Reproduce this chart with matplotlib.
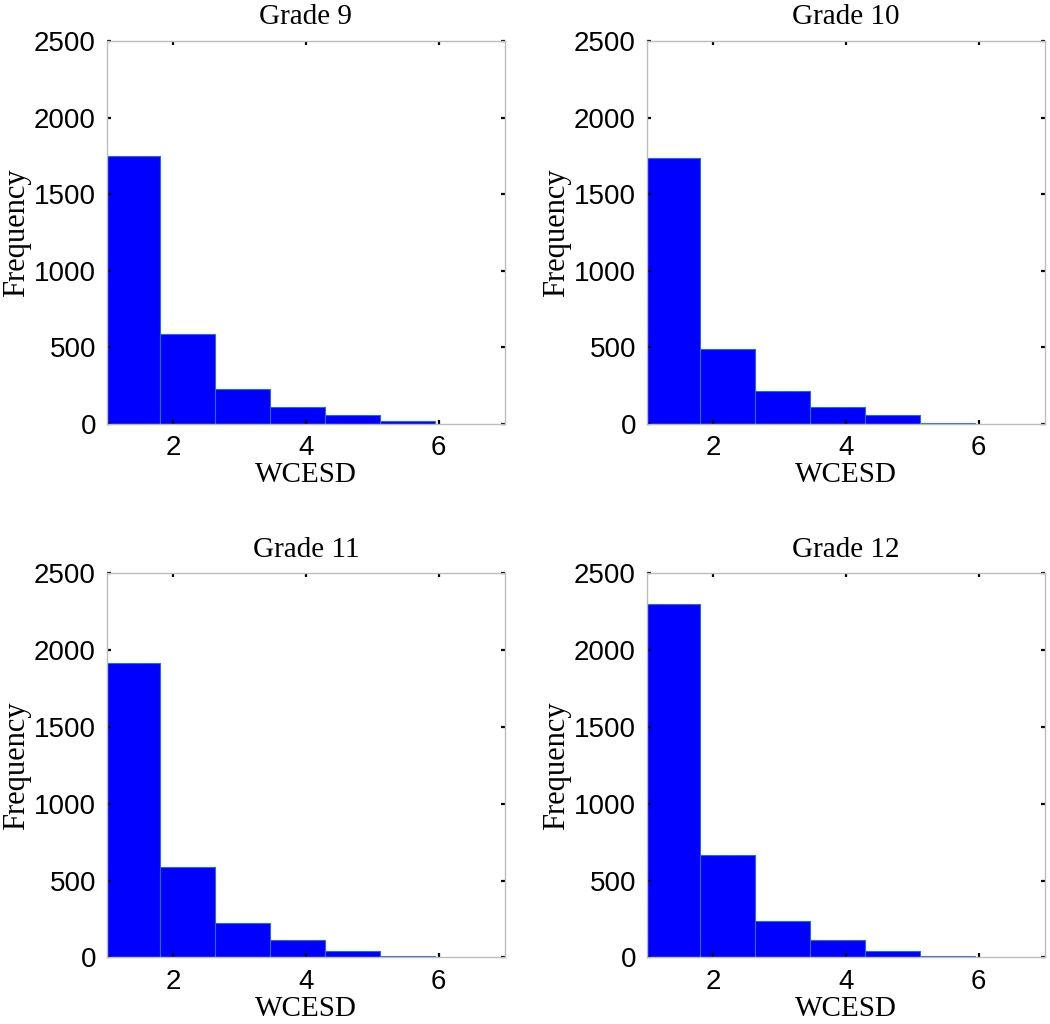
import numpy as np
import matplotlib
matplotlib.use('Agg')
import matplotlib.pyplot as plt

# --- data (MATLAB-style hist, 6 bins) ---
bin_edges = [0.97, 1.80, 2.63, 3.46, 4.29, 5.12, 5.95]
grades = ['Grade 9', 'Grade 10', 'Grade 11', 'Grade 12']
counts_g9 = [1747, 586, 226, 113, 56, 20]
counts_g10 = [1736, 486, 215, 113, 56, 9]
counts_g11 = [1914, 586, 226, 113, 43, 9]
counts_g12 = [2300, 664, 237, 113, 43, 9]
all_counts = [counts_g9, counts_g10, counts_g11, counts_g12]

x_ticks = [2, 4, 6]
y_ticks = [0, 500, 1000, 1500, 2000, 2500]

serif = ['Liberation Serif', 'DejaVu Serif']
sans = ['Liberation Sans', 'DejaVu Sans']

fig = plt.figure(figsize=(10.5, 10.24), dpi=100)

# axes boxes in figure fractions [left, bottom, width, height]
positions = [
    [0.1019, 0.586, 0.379, 0.374],
    [0.6162, 0.586, 0.379, 0.374],
    [0.1019, 0.065, 0.379, 0.375],
    [0.6162, 0.065, 0.379, 0.375],
]

edges = np.array(bin_edges)
widths = np.diff(edges)

for pos, title, counts in zip(positions, grades, all_counts):
    ax = fig.add_axes(pos)
    ax.bar(edges[:-1], counts, width=widths, align='edge',
           color='#0000ff', edgecolor='#2a6ad6', linewidth=0.8)
    ax.set_xlim(1, 7)
    ax.set_ylim(0, 2500)
    ax.set_xticks(x_ticks)
    ax.set_yticks(y_ticks)

    for s in ax.spines.values():
        s.set_color('#bdbdbd')
        s.set_linewidth(1.0)

    ax.tick_params(direction='in', length=3, width=1.6, color='black',
                   top=True, right=True, labelsize=20, pad=8)
    for lab in ax.get_xticklabels() + ax.get_yticklabels():
        lab.set_family(sans)

    ax.set_title(title, family=serif, fontsize=21, pad=12)
    ax.set_xlabel('WCESD', family=serif, fontsize=21, labelpad=1)
    ax.set_ylabel('Frequency', family=serif, fontsize=22, labelpad=2)

plt.savefig('out.png', dpi=100)
